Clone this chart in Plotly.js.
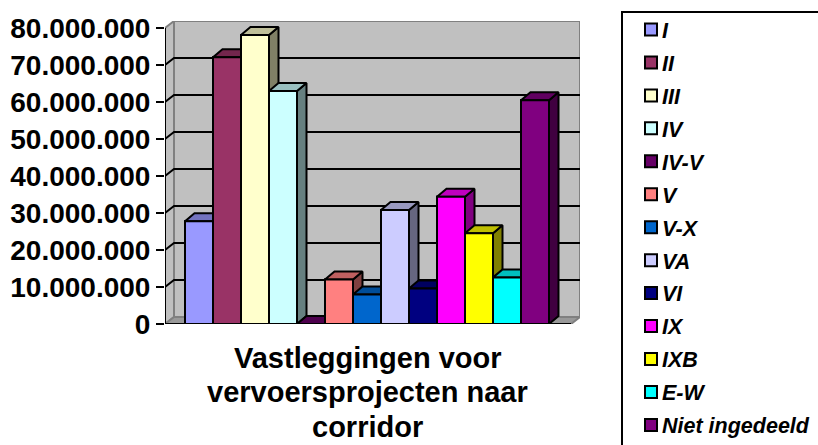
<!DOCTYPE html>
<html><head><meta charset="utf-8">
<script src="https://cdn.plot.ly/plotly-3.0.1.min.js"></script>
<style>html,body{margin:0;padding:0;background:#fff}</style></head>
<body><div id="chart" style="width:818px;height:445px"></div>
<script>
const categories=['I','II','III','IV','IV-V','V','V-X','VA','VI','IX','IXB','E-W','Niet ingedeeld'];
const values=[27800000,72100000,78100000,63000000,0,12000000,8000000,30800000,9600000,34400000,24500000,12600000,60500000];
const colors=['#9999FF','#993366','#FFFFCC','#CCFFFF','#660066','#FF8080','#0066CC','#CCCCFF','#000080','#FF00FF','#FFFF00','#00FFFF','#800080'];
const tickVals=[0,10000000,20000000,30000000,40000000,50000000,60000000,70000000,80000000];
const tickText=['0','10.000.000','20.000.000','30.000.000','40.000.000','50.000.000','60.000.000','70.000.000','80.000.000'];
const titleLines=['Vastleggingen voor','vervoersprojecten naar','corridor'];

const pxX=1/28, pxY=1e7/37;
const xR=[-34*pxX,381*pxX], yR=[0,303*pxY];
const dxW=9*pxX, dyW=7*pxY, dxB=9.5*pxX, dyB=8*pxY;
function shade(hex,f){const n=parseInt(hex.slice(1),16);
  return 'rgb('+[(n>>16)&255,(n>>8)&255,n&255].map(v=>Math.round(v*f)).join(',')+')';}
const traces=[];
categories.forEach((c,i)=>traces.push({type:'bar',x:[i],y:[values[i]],width:1,name:c,legendgroup:c,
  marker:{color:colors[i],line:{color:'#000',width:2}},hoverinfo:'name+y'}));
function face(xs,ys,col){traces.push({type:'scatter',mode:'lines',x:xs,y:ys,fill:'toself',fillcolor:col,
  line:{color:'#000',width:2},showlegend:false,hoverinfo:'skip'});}
categories.forEach((c,i)=>{
  const l=i-.5,r=i+.5,v=values[i];
  face([r,r+dxB,r+dxB,r,r],[0,dyB,v+dyB,v,0],shade(colors[i],.5));
  face([l,r,r+dxB,l+dxB,l],[v,v,v+dyB,v+dyB,v],shade(colors[i],.75));
  face([l,r,r,l,l],[0,0,v,v,0],colors[i]);
});
const x0=xR[0], xW=x0+dxW, xEnd=xR[1], xFront=xEnd-dxW, yTop=yR[1];
const shapes=[
 {type:'path',layer:'below',path:`M${x0},0L${xW},${dyW}L${xW},${yTop}L${x0},${yTop-dyW}Z`,fillcolor:'#C0C0C0',line:{color:'#808080',width:2}},
 {type:'path',layer:'below',path:`M${x0},0L${xFront},0L${xEnd},${dyW}L${xW},${dyW}Z`,fillcolor:'#999999',line:{color:'#808080',width:2}},
 {type:'rect',layer:'below',x0:xW,x1:xEnd,y0:dyW,y1:yTop,fillcolor:'#C0C0C0',line:{color:'#808080',width:2}}
];
tickVals.slice(1,-1).forEach(v=>{
  shapes.push({type:'path',layer:'below',path:`M${x0},${v}L${xW},${v+dyW}L${xEnd},${v+dyW}`,line:{color:'#000',width:2}});
});
shapes.push({type:'line',layer:'above',x0:x0,x1:x0,y0:0,y1:tickVals[8],line:{color:'#000',width:2}});
shapes.push({type:'line',layer:'above',x0:x0,x1:xFront,y0:0,y1:0,line:{color:'#000',width:2}});
[x0,xFront].forEach(x=>shapes.push({type:'line',layer:'above',x0:x,x1:x,y0:0,y1:-7*pxY,line:{color:'#000',width:2}}));
// legend frame runs past the right and bottom edges of the picture, as in the reference
shapes.push({type:'rect',layer:'above',xref:'paper',yref:'paper',
  x0:(622-165)/415,x1:(830-165)/415,y0:1-(460-21)/303,y1:1-(12-21)/303,line:{color:'#000',width:2},fillcolor:'rgba(0,0,0,0)'});

const lineY=[358,392,427];
const annotations=titleLines.map((t,i)=>({text:t,xref:'paper',yref:'paper',x:(367.5-165)/415,y:1-(lineY[i]-21)/303,
  xanchor:'center',yanchor:'middle',showarrow:false,font:{size:29,weight:700}}));

const layout={width:818,height:445,paper_bgcolor:'#fff',plot_bgcolor:'rgba(0,0,0,0)',
 margin:{l:165,r:238,t:21,b:121,pad:0},barmode:'overlay',showlegend:true,
 font:{family:'"Liberation Sans",Arial,sans-serif',color:'#000'},
 xaxis:{range:xR,showgrid:false,zeroline:false,showline:false,ticks:'',showticklabels:false},
 yaxis:{range:yR,tickmode:'array',tickvals:tickVals,ticktext:tickText,showgrid:false,zeroline:false,showline:false,
  ticks:'outside',ticklen:8,tickwidth:2,tickcolor:'#000',tickfont:{size:28,weight:700}},
 legend:{x:622/818,xanchor:'left',y:1-9/445,yanchor:'top',yref:'container',xref:'container',bgcolor:'rgba(0,0,0,0)',borderwidth:0,
  font:{size:21.5,weight:700,style:'italic'},tracegroupgap:2,entrywidth:160,entrywidthmode:'pixels',maxheight:445},
 shapes:shapes,annotations:annotations};
Plotly.newPlot('chart',traces,layout,{displayModeBar:false,staticPlot:true}).then(gd=>{
  gd.querySelectorAll('.legendsymbols').forEach(g=>g.setAttribute('transform','translate(9,0)'));
});
</script></body></html>
